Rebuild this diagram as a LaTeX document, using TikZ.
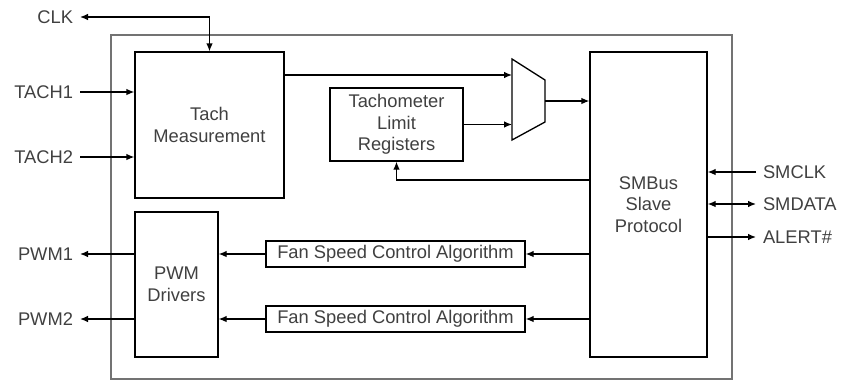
\documentclass[tikz,border=0pt]{standalone}
\usepackage{fontspec}
\setmainfont{Liberation Sans}
\usetikzlibrary{arrows.meta}

\tikzset{
  blk/.style={draw=black, line width=0.8pt, fill=white, align=center, inner sep=2pt},
  pin/.style={inner sep=4pt},
  wire/.style={line width=0.8pt, -{Latex[length=4.8pt,width=4pt]}},
  bus/.style={line width=0.8pt, {Latex[length=4.8pt,width=4pt]}-{Latex[length=4.8pt,width=4pt]}},
}

\begin{document}
\begin{tikzpicture}[x=0.6pt, y=-0.6pt, font=\fontsize{11}{13}\selectfont, text=black!75]

\useasboundingbox (0,0) rectangle (844,381);

% chip outline
\draw[black!55, line width=1.3pt] (111,35) rectangle (732,379);

% blocks
\node[blk, minimum width=89.4pt, minimum height=87.6pt] (tach) at (209.5,125) {Tach\\Measurement};
\node[blk, minimum width=79.8pt, minimum height=43.8pt] (regs) at (396.5,124.5) {Tachometer\\Limit\\Registers};
\node[blk, minimum width=70.2pt, minimum height=183pt] (smbus) at (648.5,204.5) {SMBus\\Slave\\Protocol};
\node[blk, minimum width=49.8pt, minimum height=87pt] (pwm) at (176.5,284.5) {PWM\\Drivers};
\node[blk, minimum width=155.4pt, minimum height=15.6pt] (fanA) at (395.5,254) {Fan Speed Control Algorithm};
\node[blk, minimum width=155.4pt, minimum height=15.6pt] (fanB) at (395.5,319) {Fan Speed Control Algorithm};

% mux
\coordinate (muxA) at (512,75);
\coordinate (muxB) at (512,123);
\coordinate (muxO) at (545,101);
\draw[line width=0.8pt] (512,59) -- (545,80) -- (545,122) -- (512,140) -- cycle;

% pins
\node[pin, anchor=east] (clk) at (80,17) {CLK};
\node[pin, anchor=east] (tachA) at (80,92) {TACH1};
\node[pin, anchor=east] (tachB) at (80,157) {TACH2};
\node[pin, anchor=east] (pwmA) at (80,254) {PWM1};
\node[pin, anchor=east] (pwmB) at (80,319) {PWM2};
\node[pin, anchor=west] (smclk) at (756,172) {SMCLK};
\node[pin, anchor=west] (smdata) at (756,204) {SMDATA};
\node[pin, anchor=west] (alert) at (756,237) {ALERT\#};

% connections
\draw[bus] (clk.east) -| (tach.north);
\draw[wire] (tachA.east) -- (tachA.east -| tach.west);
\draw[wire] (tachB.east) -- (tachB.east -| tach.west);
\draw[wire] (tach.east |- muxA) -- (muxA);
\draw[wire] (regs.east) -- (regs.east -| muxB);
\draw[wire] (muxO) -- (muxO -| smbus.west);
\draw[wire] (smbus.west |- 0,180) -| (regs.south);

\draw[wire] (smbus.west |- fanA) -- (fanA.east);
\draw[wire] (smbus.west |- fanB) -- (fanB.east);
\draw[wire] (fanA.west) -- (fanA.west -| pwm.east);
\draw[wire] (fanB.west) -- (fanB.west -| pwm.east);
\draw[wire] (pwm.west |- pwmA) -- (pwmA.east);
\draw[wire] (pwm.west |- pwmB) -- (pwmB.east);

\draw[wire] (smclk.west) -- (smclk.west -| smbus.east);
\draw[bus] (smbus.east |- smdata) -- (smdata.west);
\draw[wire] (smbus.east |- alert) -- (alert.west);

\end{tikzpicture}
\end{document}
